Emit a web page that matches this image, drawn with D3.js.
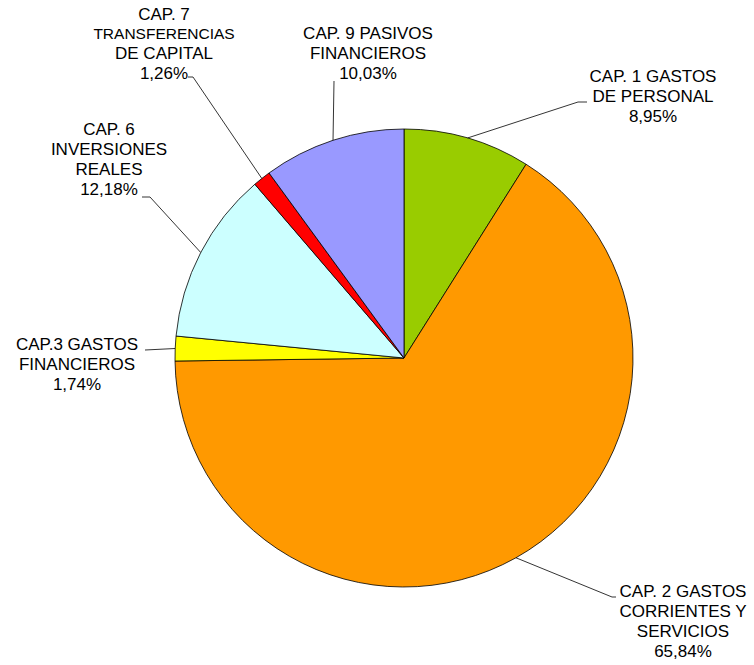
<!DOCTYPE html>
<html><head><meta charset="utf-8">
<script src="https://cdn.jsdelivr.net/npm/d3@7"></script>
<style>html,body{margin:0;padding:0;background:#fff;}svg{display:block;}</style>
</head><body>
<svg id="chart" width="754" height="665"></svg>
<script>
// ---- data ----
const categories = [
  ["CAP. 1 GASTOS", "DE PERSONAL"],
  ["CAP. 2 GASTOS", "CORRIENTES Y", "SERVICIOS"],
  ["CAP.3 GASTOS", "FINANCIEROS"],
  ["CAP. 6", "INVERSIONES", "REALES"],
  ["CAP. 7", "TRANSFERENCIAS", "DE CAPITAL"],
  ["CAP. 9 PASIVOS", "FINANCIEROS"]
];
const values = [8.95, 65.84, 1.74, 12.18, 1.26, 10.03];
const colors = ["#99CC00", "#FF9900", "#FFFF00", "#CCFFFF", "#FF0000", "#9999FF"];

// ---- layout (label placement) ----
const labelPos = [
  {x: 653, y: 82,  elbow: [578, 102], end: [587, 102]},
  {x: 683, y: 597, elbow: [612, 597], end: [616, 597]},
  {x: 77,  y: 350, elbow: [145, 350], end: [145, 350]},
  {x: 109, y: 135, elbow: [150, 197], end: [142, 197]},
  {x: 164, y: 20,  elbow: [193, 77],  end: [188, 77]},
  {x: 368, y: 39,  elbow: [334, 81],  end: [334, 81]}
];

const svg = d3.select("#chart");
const cx = 404, cy = 358, R = 229;
const fmt = v => d3.format(".2f")(v).replace(".", ",") + "%";

const pie = d3.pie().sort(null).value(d => d).startAngle(0).endAngle(2 * Math.PI);
const arcs = pie(values);
const arc = d3.arc().innerRadius(0).outerRadius(R);

const g = svg.append("g").attr("transform", `translate(${cx},${cy})`);
g.selectAll("path").data(arcs).join("path")
  .attr("d", arc)
  .attr("fill", (d, i) => colors[i])
  .attr("stroke", "#000")
  .attr("stroke-width", 0.8);

// leader lines
arcs.forEach((d, i) => {
  const a = (d.startAngle + d.endAngle) / 2;
  const p0 = [cx + R * Math.sin(a), cy - R * Math.cos(a)];
  const L = labelPos[i];
  svg.append("polyline")
    .attr("points", [p0, L.elbow, L.end].map(p => p.join(",")).join(" "))
    .attr("fill", "none").attr("stroke", "#000").attr("stroke-width", 0.8);
});

// labels
arcs.forEach((d, i) => {
  const L = labelPos[i];
  const lines = categories[i].concat([fmt(values[i])]);
  const t = svg.append("text")
    .attr("x", L.x).attr("y", L.y)
    .attr("text-anchor", "middle")
    .attr("font-family", "Liberation Sans, Arial, sans-serif")
    .attr("font-size", 17)
    .attr("fill", "#000");
  lines.forEach((s, j) => {
    const ts = t.append("tspan").attr("x", L.x).text(s);
    if (j > 0) ts.attr("dy", (i === 4 && j === 1) ? 18.5 : 20);
    if (i === 4 && j === 1) ts.attr("font-size", 15.5);
  });
});
</script>
</body></html>
